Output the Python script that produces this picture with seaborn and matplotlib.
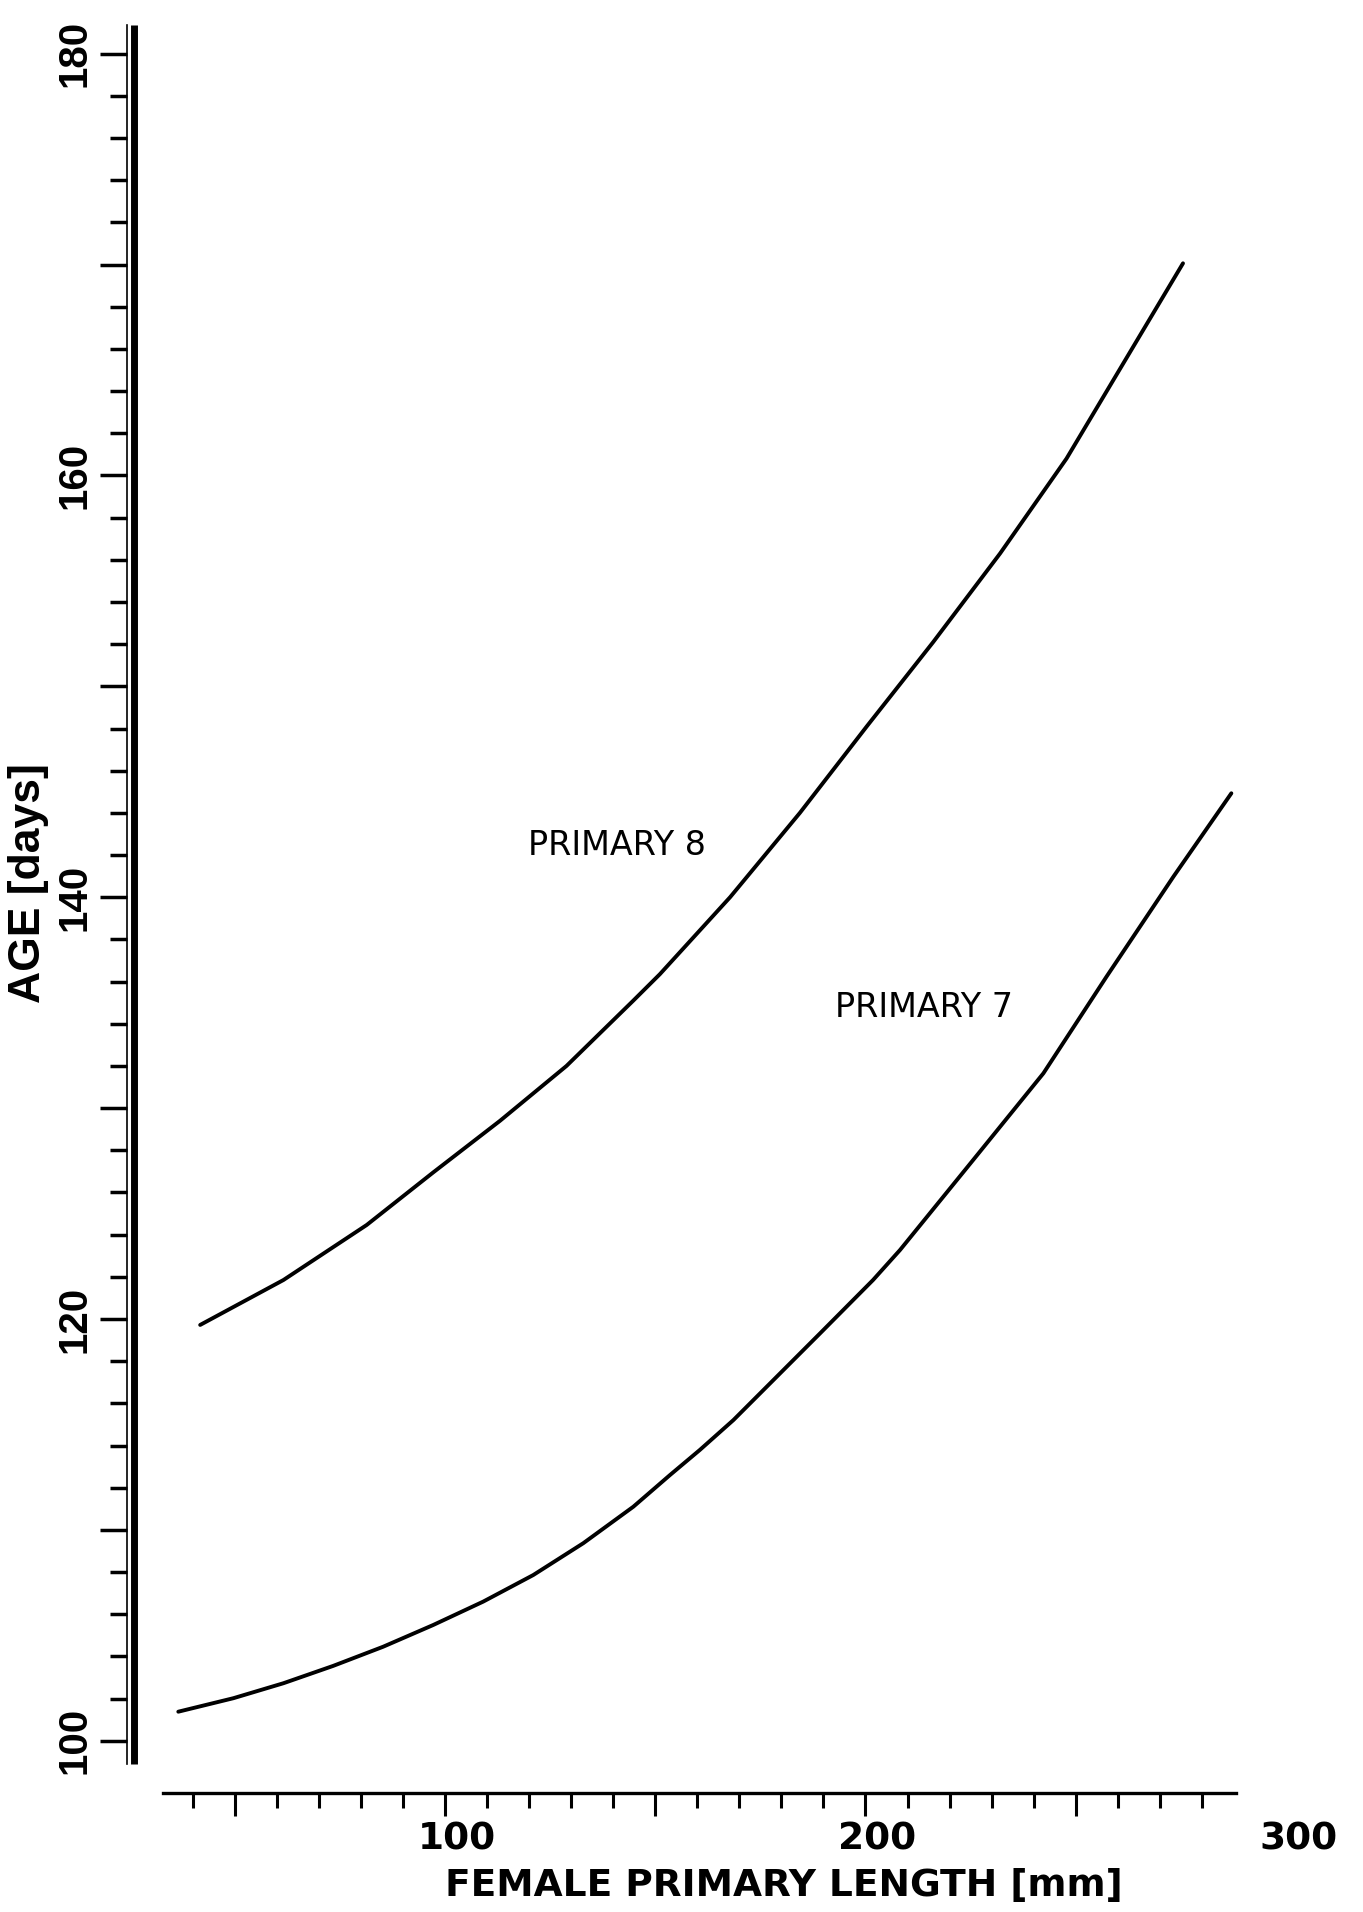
import matplotlib
matplotlib.use("Agg")
import matplotlib.pyplot as plt
import matplotlib.transforms as mtransforms
import seaborn as sns
import pandas as pd
from matplotlib.ticker import FixedLocator, FixedFormatter

# ---- data ----
p7_length = [36.6, 49.7, 61.6, 73.4, 85.3, 97.2, 109.1, 121.0, 132.9, 144.8, 153.5,
             160.6, 168.6, 189.2, 201.8, 208.2, 225.6, 242.3, 257.3, 273.2, 287.0]
p7_age = [101.38, 102.02, 102.73, 103.55, 104.46, 105.49, 106.60, 107.86, 109.37, 111.10, 112.60,
          113.79, 115.21, 119.32, 121.85, 123.27, 127.54, 131.65, 136.23, 140.97, 144.93]

p8_length = [41.8, 61.6, 81.4, 97.2, 113.1, 128.9, 144.8, 151.1, 167.8, 184.4,
             200.3, 216.1, 232.0, 247.8, 275.5]
p8_age = [119.72, 121.85, 124.46, 126.95, 129.4, 132.0, 135.1, 136.35, 140.0, 144.0,
          148.1, 152.1, 156.3, 160.8, 170.06]

series_names = ["PRIMARY 7", "PRIMARY 8"]

x_major = [50, 100, 150, 200, 250, 300]
x_major_labels = ["", "100", "", "200", "", "300"]
x_minor = list(range(40, 290, 10))
y_major = [100, 110, 120, 130, 140, 150, 160, 170, 180]
y_major_labels = ["100", "", "120", "", "140", "", "160", "", "180"]
y_minor = list(range(100, 181, 2))

x_title = "FEMALE PRIMARY LENGTH [mm]"
y_title = "AGE [days]"

df = pd.concat([
    pd.DataFrame({"length": p7_length, "age": p7_age, "primary": series_names[0]}),
    pd.DataFrame({"length": p8_length, "age": p8_age, "primary": series_names[1]}),
])

sns.set_style("ticks")
plt.rcParams["font.family"] = ["Liberation Sans", "DejaVu Sans"]
plt.rcParams.update({
    "text.color": "black", "axes.labelcolor": "black",
    "xtick.color": "black", "ytick.color": "black",
    "axes.edgecolor": "black",
})

W, H = 1363, 1912
fig = plt.figure(figsize=(W / 100, H / 100), dpi=100)
ax = fig.add_axes([127 / W, (H - 1764) / H, 1183 / W, 1739 / H])

sns.lineplot(data=df, x="length", y="age", hue="primary",
             palette={series_names[0]: "black", series_names[1]: "black"},
             legend=False, estimator=None, sort=True, linewidth=2.8, ax=ax)
for ln in ax.get_lines():
    ln.set_solid_joinstyle("round")
    ln.set_solid_capstyle("round")

ax.set_xlim(24.4, 305.7)
ax.set_ylim(98.9, 181.36)

for s in ["top", "right"]:
    ax.spines[s].set_visible(False)
ax.spines["left"].set_linewidth(1.2)
ax.spines["bottom"].set_linewidth(2.4)
ax.spines["bottom"].set_position(("outward", 21))
ax.spines["bottom"].set_bounds(33, 288)

# thick companion line of the double left axis
ax.plot([0.0055, 0.0055], [0, 1], transform=ax.transAxes, color="black",
        lw=5, solid_capstyle="butt", clip_on=False)

# x ticks
ax.xaxis.set_major_locator(FixedLocator(x_major))
ax.xaxis.set_major_formatter(FixedFormatter(x_major_labels))
ax.xaxis.set_minor_locator(FixedLocator(x_minor))
ax.tick_params(axis="x", which="both", bottom=True, top=False, direction="out",
               width=2.2, color="black", labelcolor="black")
ax.tick_params(axis="x", which="major", length=16.5, pad=4, labelsize=27)
ax.tick_params(axis="x", which="minor", length=10.8)
shift = mtransforms.ScaledTranslation(0.12, 0, fig.dpi_scale_trans)
for lab in ax.get_xticklabels():
    lab.set_fontfamily(["DejaVu Sans"])
    lab.set_fontweight("bold")
    lab.set_transform(lab.get_transform() + shift)
ticks = ax.xaxis.get_major_ticks()
ticks[-1].tick1line.set_visible(False)

# y ticks
ax.yaxis.set_major_locator(FixedLocator(y_major))
ax.yaxis.set_major_formatter(FixedFormatter(y_major_labels))
ax.yaxis.set_minor_locator(FixedLocator(y_minor))
ax.tick_params(axis="y", which="both", left=True, right=False, direction="out",
               width=2.5, color="black", labelcolor="black")
ax.tick_params(axis="y", which="major", length=19.4, pad=5, labelsize=29, labelrotation=90)
ax.tick_params(axis="y", which="minor", length=12.2)
for lab in ax.get_yticklabels():
    lab.set_fontweight("bold")
    lab.set_verticalalignment("center")

# axis titles
ax.set_xlabel(x_title, fontsize=27, fontweight="bold", family=["DejaVu Sans"])
ax.xaxis.set_label_coords((784 - 127) / 1183, -(1886 - 1764) / 1739)
ax.xaxis.label.set_verticalalignment("center")
ax.set_ylabel(y_title, fontsize=32, fontweight="bold")
ax.yaxis.set_label_coords((29 - 127) / 1183, (1764 - 883) / 1739)
ax.yaxis.label.set_verticalalignment("center")

# curve labels
ax.text(140.9, 142.47, series_names[1], fontsize=24, family=["DejaVu Sans"],
        ha="center", va="center", color="black")
ax.text(213.9, 134.75, series_names[0], fontsize=24, family=["DejaVu Sans"],
        ha="center", va="center", color="black")

fig.savefig("out.png", dpi=100, facecolor="white")
